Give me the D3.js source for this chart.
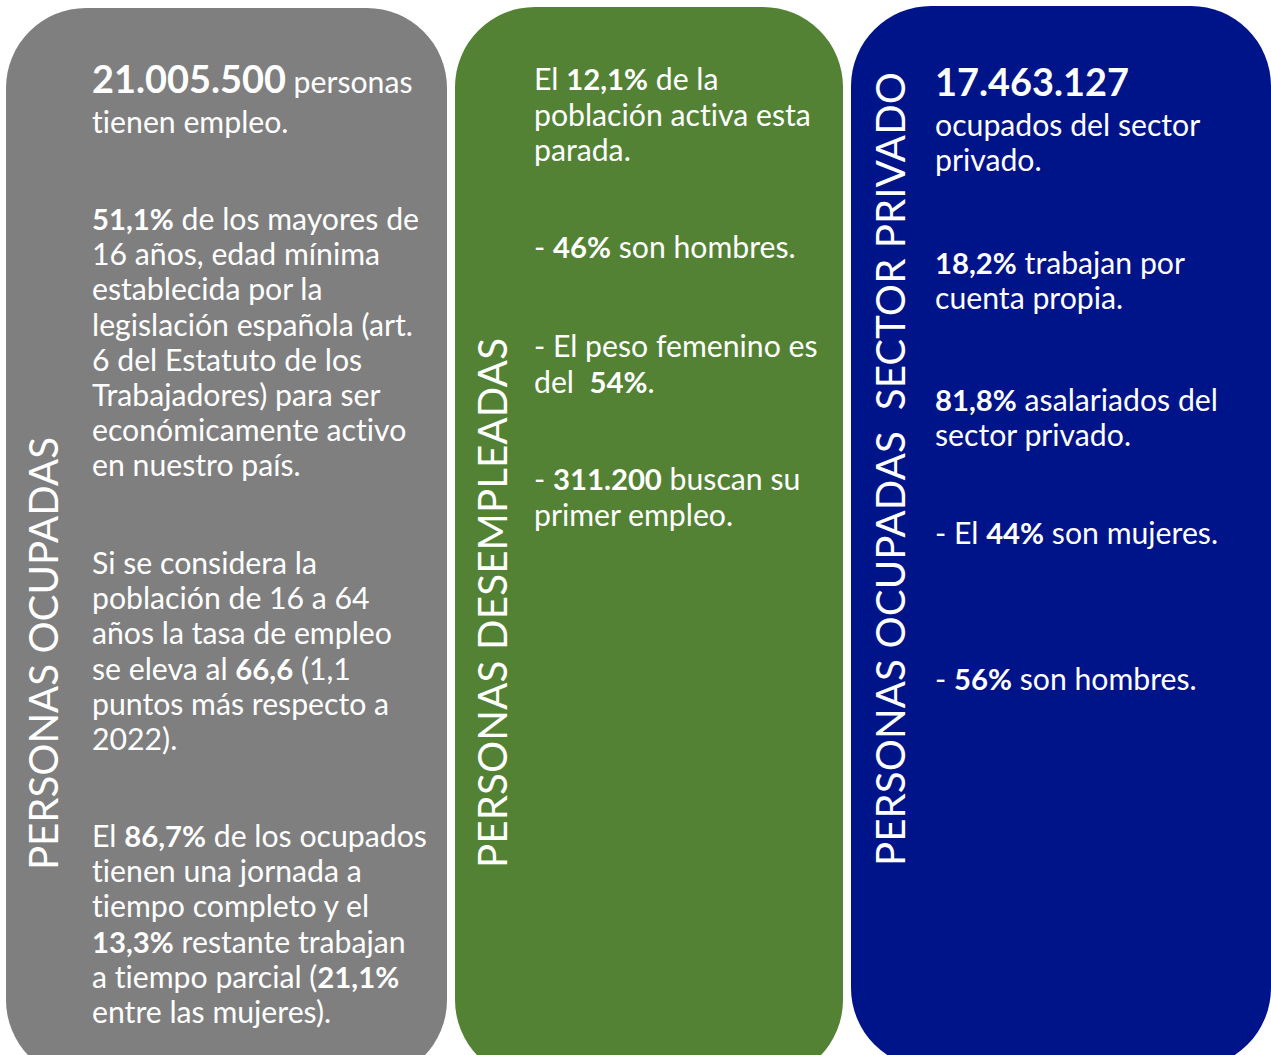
<!DOCTYPE html>
<html>
<head>
<meta charset="utf-8">
<script src="https://cdn.jsdelivr.net/npm/d3@7"></script>
<style>
  html, body { margin: 0; padding: 0; background: #ffffff; }
  svg { display: block; }
  text { white-space: pre; font-variant-ligatures: none; font-feature-settings: "liga" 0, "clig" 0; }
</style>
</head>
<body>
<svg id="chart" width="1271" height="1055"></svg>
<script>
// ---------------- DATA ----------------
const panelTitles = [
  "PERSONAS OCUPADAS",
  "PERSONAS DESEMPLEADAS",
  "PERSONAS OCUPADAS  SECTOR PRIVADO"
];
// **x** = bold, ##x## = large bold
const ocupadasParagraphs = [
  ["##21.005.500## personas", "tienen empleo."],
  ["**51,1%** de los mayores de", "16 años, edad mínima", "establecida por la",
   "legislación española (art.", "6 del Estatuto de los", "Trabajadores) para ser",
   "económicamente activo", "en nuestro país."],
  ["Si se considera la", "población de 16 a 64", "años la tasa de empleo",
   "se eleva al **66,6** (1,1", "puntos más respecto a", "2022)."],
  ["El **86,7%** de los ocupados", "tienen una jornada a", "tiempo completo y el",
   "**13,3%** restante trabajan", "a tiempo parcial (**21,1%**", "entre las mujeres)."]
];
const desempleadasParagraphs = [
  ["El **12,1%** de la", "población activa esta", "parada."],
  ["- **46%** son hombres."],
  ["- El peso femenino es", "del  **54%**."],
  ["- **311.200** buscan su", "primer empleo."]
];
const privadoParagraphs = [
  ["##17.463.127##", "ocupados del sector", "privado."],
  ["**18,2%** trabajan por", "cuenta propia."],
  ["**81,8%** asalariados del", "sector privado."],
  ["- El **44%** son mujeres."],
  ["- **56%** son hombres."]
];

// ---------------- LAYOUT / STYLE ----------------
const FONT = "Lato, 'Open Sans', 'DejaVu Sans', sans-serif";
const panels = [
  { x0: 6,   x1: 447,  y0: 8, y1: 1080, color: "#7f7f7f", textX: 92,
    titleX: 58, titleY: 870, titleLen: 433,
    paragraphs: ocupadasParagraphs, firstBaselines: [93, 230, 574, 847], step: 35.2 },
  { x0: 455, x1: 843,  y0: 7, y1: 1080, color: "#548235", textX: 534,
    titleX: 507, titleY: 868, titleLen: 530,
    paragraphs: desempleadasParagraphs, firstBaselines: [90, 258, 357, 490], step: 35.5 },
  { x0: 851, x1: 1271, y0: 6, y1: 1068, color: "#001489", textX: 935,
    titleX: 905, titleY: 866, titleLen: 794,
    paragraphs: privadoParagraphs, firstBaselines: [96, 274, 411, 544, 690], step: 35.2 }
];
const R = 80;

const svg = d3.select("#chart");

function measure(str, size, weight) {
  const t = svg.append("text").attr("font-family", FONT)
    .attr("font-size", size).attr("font-weight", weight).text(str);
  const w = t.node().getComputedTextLength();
  t.remove();
  return w;
}
const bodySize = 30 * 321 / measure("legislación española (art.", 30, 400);
const boldSize = bodySize * 0.97;
const bigSize = 40 * 194 / measure("21.005.500", 40, 700);
const titleSize = 40 * 433 / measure(panelTitles[0], 40, 400);

function parseSegments(line) {
  const segs = [];
  const re = /(##[^#]+##|\*\*[^*]+\*\*)/g;
  let last = 0, m;
  while ((m = re.exec(line)) !== null) {
    if (m.index > last) segs.push({ t: line.slice(last, m.index), w: 400, size: bodySize });
    const tok = m[0];
    if (tok.startsWith("##")) segs.push({ t: tok.slice(2, -2), w: 700, size: bigSize });
    else segs.push({ t: tok.slice(2, -2), w: 700, size: boldSize });
    last = m.index + tok.length;
  }
  if (last < line.length) segs.push({ t: line.slice(last), w: 400, size: bodySize });
  return segs;
}

const g = svg.selectAll("g.panel").data(panels).join("g").attr("class", "panel");
g.append("rect")
  .attr("x", d => d.x0).attr("y", d => d.y0)
  .attr("width", d => d.x1 - d.x0).attr("height", d => d.y1 - d.y0)
  .attr("rx", R).attr("ry", R)
  .attr("fill", d => d.color);

g.append("text")
  .attr("transform", d => `translate(${d.titleX},${d.titleY}) rotate(-90)`)
  .attr("font-family", FONT).attr("font-weight", 400)
  .attr("font-size", titleSize)
  .attr("fill", "#ffffff")
  .attr("textLength", d => d.titleLen)
  .attr("lengthAdjust", "spacing")
  .text((d, i) => panelTitles[i]);

panels.forEach(p => {
  const lines = [];
  p.paragraphs.forEach((para, pi) => {
    const y0 = p.firstBaselines[pi];
    para.forEach((ln, li) => {
      let y = y0 + li * p.step;
      if (pi === 0 && para[0].includes("##") && li > 0) y = y0 + 5 + li * p.step;
      lines.push({ text: ln, y: y });
    });
  });
  const t = svg.selectAll(null).data(lines).join("text")
    .attr("x", p.textX).attr("y", d => d.y)
    .attr("font-family", FONT).attr("font-size", bodySize)
    .attr("fill", "#ffffff");
  t.selectAll("tspan").data(d => parseSegments(d.text)).join("tspan")
    .attr("font-weight", s => s.w)
    .attr("font-size", s => s.size)
    .text(s => s.t);
});
</script>
</body>
</html>
